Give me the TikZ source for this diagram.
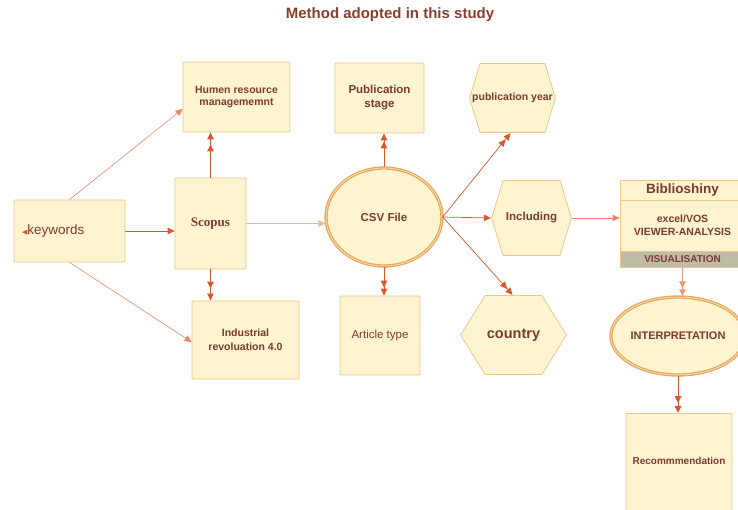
\documentclass[tikz,border=0pt]{standalone}
\usepackage{fontspec}
\setmainfont{Liberation Sans}
\newfontfamily\scopusfont{Liberation Serif}
\newfontfamily\symbfont{DejaVu Sans}
\usetikzlibrary{arrows.meta, shapes.geometric}

\definecolor{boxfill}{HTML}{FEF4D0}
\definecolor{boxline}{HTML}{EEC68C}
\definecolor{ovalline}{HTML}{E8A860}
\definecolor{arrowred}{HTML}{D9582B}
\definecolor{txtbrown}{HTML}{7B3A2E}
\definecolor{titlebrown}{HTML}{8A3F2E}
\definecolor{visgray}{HTML}{BDBCA5}

\begin{document}
\begin{tikzpicture}[x=1pt, y=-1pt,
        every node/.style={text=txtbrown, inner sep=0pt, align=center},
        box/.style={rectangle, draw=boxline, fill=boxfill, line width=0.8pt, rounded corners=1pt},
        oval/.style={ellipse, draw=ovalline, fill=boxfill, line width=1.4pt, double=boxfill, double distance=0.5pt},
        hexa/.style={path picture={
            \filldraw[draw=boxline, fill=boxfill, line width=0.8pt]
                ([xshift=0.6pt]path picture bounding box.west)
             -- ([xshift=#1, yshift=-0.6pt]path picture bounding box.north west)
             -- ([xshift=-#1, yshift=-0.6pt]path picture bounding box.north east)
             -- ([xshift=-0.6pt]path picture bounding box.east)
             -- ([xshift=-#1, yshift=0.6pt]path picture bounding box.south east)
             -- ([xshift=#1, yshift=0.6pt]path picture bounding box.south west)
             -- cycle;}},
        arrow/.style={-{Triangle[length=7pt, width=6.5pt]}, draw=arrowred, line width=0.9pt},
        thinarrow/.style={arrow, draw=arrowred!70, line width=0.6pt},
        twohead/.style={-{Triangle[length=7pt, width=6.5pt, sep=#1]Triangle[length=7pt, width=6.5pt]},
            draw=arrowred, line width=0.9pt},
        twohead/.default=4pt
    ]

    \tikzset{
    small/.style={font=\fontsize{10.5}{12}\selectfont\bfseries},
    medium/.style={font=\fontsize{11.5}{14}\selectfont\bfseries}
}

    \clip (0,0) rectangle (738,510);
    \fill[white] (0,0) rectangle (738,510);

    \node (title) at (390,15) [font=\fontsize{15}{18}\selectfont\bfseries, text=titlebrown] {Method adopted in this study};

    \node (kw) at (69.5,231) [box, minimum width=111pt, minimum height=62pt, text width=95pt, align=left,
        font=\fontsize{13.5}{16}\selectfont] {{\symbfont\fontsize{7}{8}\selectfont\textcolor{arrowred}{◀}}keywords};
    \node (scopus) at (210.5,223.5) [box, minimum width=71pt, minimum height=91pt,
        font=\fontsize{13}{15}\selectfont\scopusfont\bfseries] {Scopus};
    \node (hrm) at (236.5,97) [box, small, minimum width=107pt, minimum height=70pt] {Humen resource\\managememnt};
    \node (ind) at (245.5,340) [box, minimum width=107pt, minimum height=78pt,
        font=\fontsize{10.5}{14}\selectfont\bfseries] {Industrial\\revoluation 4.0};

    \node (csv) at (384,217) [oval, medium, minimum width=116pt, minimum height=98pt] {CSV File};
    \node (stage) at (379.5,98) [box, medium, minimum width=89pt, minimum height=70pt] {Publication\\stage};
    \node (art) at (380,335.5) [box, minimum width=80pt, minimum height=79pt,
        font=\fontsize{11.5}{14}\selectfont] {Article type};

    \node (year) at (512.5,98) [hexa=11pt, small, minimum width=87pt, minimum height=70pt] {publication year};
    \node (incl) at (531.5,218) [hexa=12pt, medium, minimum width=81pt, minimum height=76pt] {Including};
    \node (country) at (513.5,335) [hexa=25pt, minimum width=107pt, minimum height=80pt,
        font=\fontsize{14.5}{17}\selectfont\bfseries] {country};

    \node (bib) at (682.5,190) [box, rounded corners=0pt, minimum width=125pt, minimum height=20pt,
        font=\fontsize{13.5}{16}\selectfont\bfseries] {Biblioshiny};
    \node (bibbody) at (682.5,225.5) [box, rounded corners=0pt, minimum width=125pt, minimum height=51pt,
        font=\fontsize{10.5}{13}\selectfont\bfseries] {excel/VOS\\VIEWER-ANALYSIS};
    \node (vis) at (682.5,259) [box, rounded corners=0pt, fill=visgray, minimum width=125pt, minimum height=16pt,
        font=\fontsize{10}{12}\selectfont\bfseries] {VISUALISATION};
    \node (interp) at (678,336) [oval, minimum width=116pt, minimum height=78pt,
        font=\fontsize{11}{13}\selectfont\bfseries] {INTERPRETATION};
    \node (rec) at (679,413) [box, anchor=north, minimum width=106pt, text height=51pt, text depth=66pt,
        font=\fontsize{10}{12}\selectfont\bfseries] {Recommmendation};

    \draw[thinarrow] (kw.north) -- ([yshift=-12pt]hrm.west);
    \draw[arrow] (kw.east) -- (kw.east -| scopus.west);
    \draw[thinarrow] (kw.south) -- ([yshift=-2pt]ind.west);

    \draw[twohead=5pt] (scopus.north) -- (scopus.north |- hrm.south);
    \draw[twohead=5pt] (scopus.south) -- (scopus.south |- ind.north);
    \draw[thinarrow, draw=arrowred!45] (scopus.east) -- (scopus.east -| csv.west);

    \draw[twohead=1pt] (csv.north) -- (csv.north |- stage.south);
    \draw[twohead=1pt] (csv.south) -- (csv.south |- art.north);
    \draw[twohead=1pt, line width=0.7pt] (csv.east) -- ([xshift=-2pt]year.south);
    \draw[arrow, line width=0.7pt] (csv.east) -- (incl.west);
    \draw[twohead=1pt, line width=0.7pt] (csv.east) -- ([xshift=-1pt]country.north);

    \draw[arrow, draw=arrowred!70] (incl.east) -- (incl.east -| bibbody.west);
    \draw[twohead=1pt, draw=arrowred!60] (vis.south) -- (vis.south |- interp.north);
    \draw[twohead=3pt] (interp.south) -- (interp.south |- rec.north);
\end{tikzpicture}
\end{document}
